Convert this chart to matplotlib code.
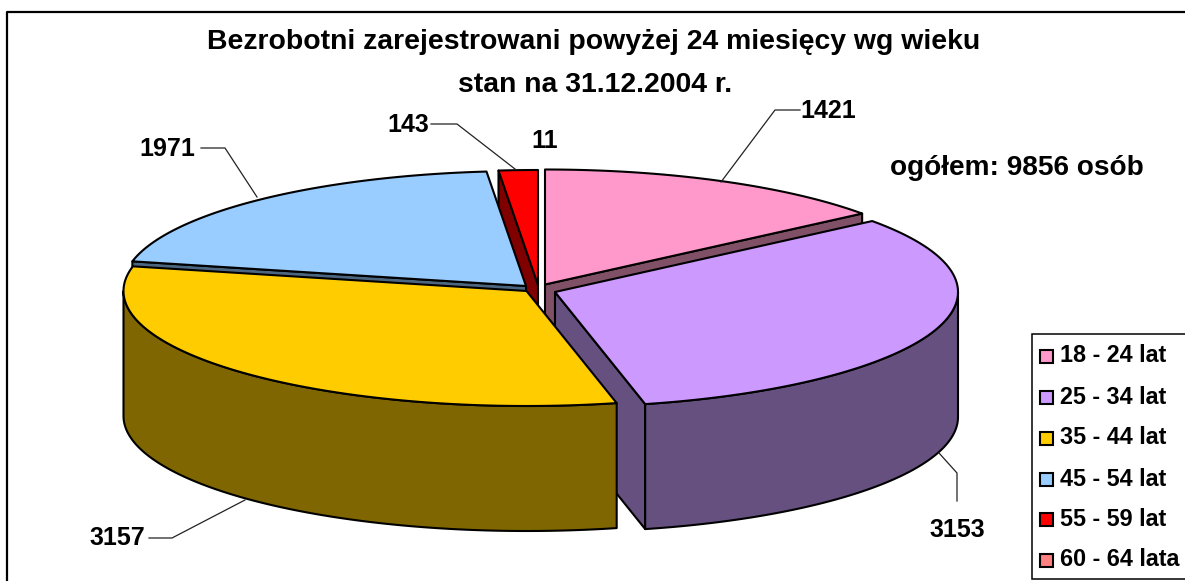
import numpy as np
import matplotlib
matplotlib.use("Agg")
import matplotlib.pyplot as plt
from matplotlib.patches import Polygon, Rectangle

labels = ["18 - 24 lat", "25 - 34 lat", "35 - 44 lat", "45 - 54 lat", "55 - 59 lat", "60 - 64 lata"]
values = [1421, 3153, 3157, 1971, 143, 11]
tops = ["#FF99CC", "#CC99FF", "#FFCC00", "#99CCFF", "#FF0000", "#FF8080"]
sides = ["#805066", "#66507F", "#806600", "#4D6680", "#800000", "#804040"]
title_lines = ["Bezrobotni zarejestrowani powyżej 24 miesięcy wg wieku", "stan na 31.12.2004 r."]
note = "ogółem: 9856 osób"

W, H = 1185, 581
plt.rcParams["font.family"] = ["Liberation Sans", "DejaVu Sans"]
fig = plt.figure(figsize=(W / 100, H / 100), dpi=100)
ax = fig.add_axes([0, 0, 1, 1])
ax.set_xlim(0, W)
ax.set_ylim(H, 0)
ax.axis("off")

# frame
ax.plot([6.5, 6.5, W + 2], [H + 2, 11.5, 11.5], color="black", lw=1.6, solid_capstyle="butt")

# pie geometry (pixel space)
a, b, depth = 403, 115, 125
apex = [(545, 284.5), (555, 292), (526.5, 291), (526, 286), (538, 285)]
edges = np.concatenate([[0], np.cumsum(values)]) / sum(values) * 2 * np.pi
# the smallest slice (11) has no visible wedge of its own in the picture:
# the neighbouring red wedge runs up to the vertical at the top of the pie
ends = list(edges[1:5]) + [edges[6]]


def rim(cx, cy, t0, t1, n=160):
    t = np.linspace(t0, t1, n)
    return np.column_stack([cx + a * np.sin(t), cy - b * np.cos(t)])


def poly(pts, color, z):
    ax.add_patch(Polygon(pts, closed=True, facecolor=color, edgecolor="black",
                         lw=1.5, joinstyle="round", zorder=z))


def draw_slice(i, z):
    cx, cy = apex[i]
    t0, t1 = edges[i], ends[i]
    down = np.array([0, depth])
    c = np.array([cx, cy], float)
    # cut faces that look towards the viewer
    if np.sin(t0) < -1e-6:
        p = rim(cx, cy, t0, t0, 1)[0]
        poly([c, p, p + down, c + down], sides[i], z)
    if np.sin(t1) > 1e-6:
        p = rim(cx, cy, t1, t1, 1)[0]
        poly([c, p, p + down, c + down], sides[i], z)
    # outer wall on the near half
    lo, hi = max(t0, np.pi / 2), min(t1, 3 * np.pi / 2)
    if hi > lo:
        r = rim(cx, cy, lo, hi)
        poly(np.vstack([r, (r + down)[::-1]]), sides[i], z + 0.1)
    # top
    poly(np.vstack([[c], rim(cx, cy, t0, t1)]), tops[i], z + 0.2)


for z, i in enumerate([0, 4, 3, 1, 2]):
    draw_slice(i, z + 2)

# leader lines and data labels
leaders = {
    0: ([800, 775, 721], [110, 110, 182]),
    1: ([957, 957, 939], [501, 473, 453]),
    2: ([149, 172, 245], [538, 538, 500]),
    3: ([201, 225, 257], [148, 148, 197]),
    4: ([431, 457, 515], [124, 124, 169]),
}
for k, (xs, ys) in leaders.items():
    ax.plot(xs, ys, color="#222222", lw=0.9, zorder=10)
lab_pos = [(828, 111), (957, 530), (117, 538), (167, 149), (408, 125), (545, 141)]
for v, (x, y) in zip(values, lab_pos):
    ax.text(x, y, str(v), ha="center", va="center", fontsize=18, fontweight="bold", zorder=11)

# title and note
ax.text(594, 42, title_lines[0], ha="center", va="center", fontsize=20.4, fontweight="bold")
ax.text(595, 85, title_lines[1], ha="center", va="center", fontsize=20.4, fontweight="bold")
ax.text(1016.5, 168, note, ha="center", va="center", fontsize=20.2, fontweight="bold")

# legend
ax.add_patch(Rectangle((1031.5, 333.5), 170, 245, facecolor="white", edgecolor="black", lw=1.1, zorder=12))
ys = [356, 397, 438, 479, 519.5, 560]
for lab, col, y in zip(labels, tops, ys):
    ax.add_patch(Rectangle((1040, y - 6.5), 12.5, 13, facecolor=col, edgecolor="black", lw=1.5, zorder=13))
    ax.text(1060, y, lab, ha="left", va="center", fontsize=16.8, fontweight="bold", zorder=13)

fig.savefig("out.png", dpi=100, facecolor="white")
